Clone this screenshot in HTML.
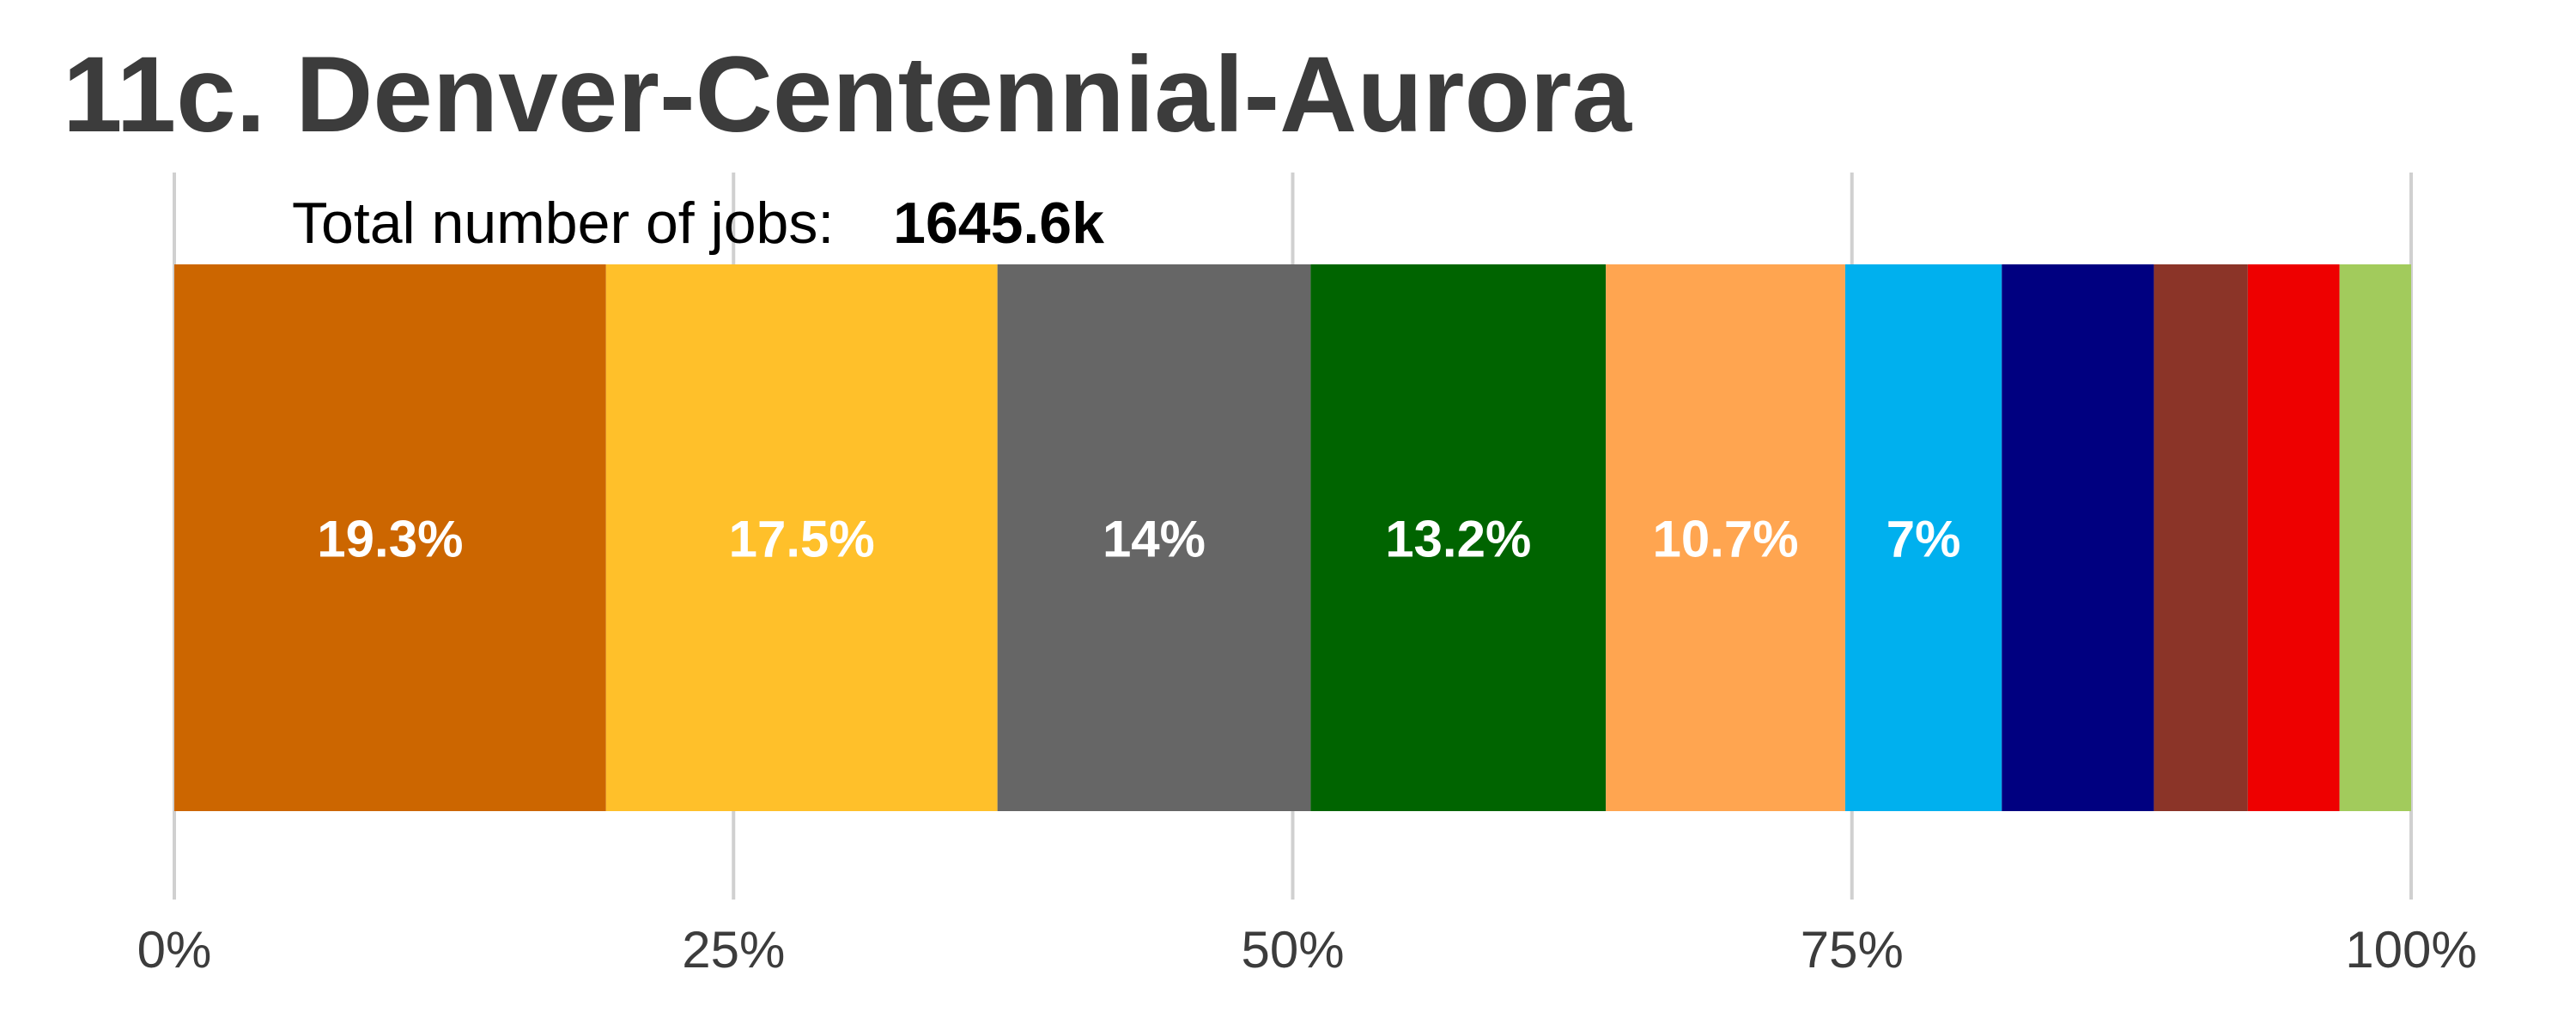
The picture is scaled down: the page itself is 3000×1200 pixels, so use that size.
<!DOCTYPE html>
<html><head><meta charset="utf-8"><style>
html,body{margin:0;padding:0;background:#fff;}
svg{display:block;font-family:"Liberation Sans",sans-serif;}
</style></head><body>
<svg id="chart" width="3000" height="1200" viewBox="0 0 3000 1200">
<text x="73" y="153" font-size="125" font-weight="bold" fill="#3c3c3c">11c. Denver-Centennial-Aurora</text>
<g id="grid"></g>
<g id="bars"></g>
<text x="340" y="283" font-size="68" fill="#000">Total number of jobs: <tspan font-weight="bold" dx="50">1645.6k</tspan></text>
<g id="ticks"></g>
</svg>
<script>
const categories=["s1","s2","s3","s4","s5","s6","s7","s8","s9","s10"];
const values=[19.3,17.5,14.0,13.2,10.7,7.0,6.8,4.2,4.1,3.2];
const colors=["#CC6600","#FFC02A","#666666","#006400","#FFA550","#00B0EE","#000080","#8B3428","#EE0000","#A2CB5C"];
const tickValues=[0,25,50,75,100];
const tickLabels=["0%","25%","50%","75%","100%"];
const NS="http://www.w3.org/2000/svg";
const x0=203,x1=2808,yTop=308,yBot=945;
const xs=v=>x0+(x1-x0)*v/100;
const grid=document.getElementById('grid'),bars=document.getElementById('bars'),ticks=document.getElementById('ticks');
tickValues.forEach((t,i)=>{
  const l=document.createElementNS(NS,'line');
  l.setAttribute('x1',xs(t));l.setAttribute('x2',xs(t));l.setAttribute('y1',201);l.setAttribute('y2',1048);
  l.setAttribute('stroke','#d0d0d0');l.setAttribute('stroke-width','4');
  
  
  grid.appendChild(l);
  const tx=document.createElementNS(NS,'text');
  tx.setAttribute('x',xs(t));tx.setAttribute('y',1127);tx.setAttribute('text-anchor','middle');
  tx.setAttribute('font-size','60');tx.setAttribute('fill','#3c3c3c');
  tx.textContent=tickLabels[i];
  
  
  ticks.appendChild(tx);
});
let cum=0;
values.forEach((v,i)=>{
  const r=document.createElementNS(NS,'rect');
  r.setAttribute('x',xs(cum));r.setAttribute('y',yTop);r.setAttribute('width',xs(cum+v)-xs(cum));r.setAttribute('height',yBot-yTop);
  r.setAttribute('fill',colors[i]);
  
  
  bars.appendChild(r);
  if(v>=7){
    const t=document.createElementNS(NS,'text');
    t.setAttribute('x',(xs(cum)+xs(cum+v))/2);t.setAttribute('y',(yTop+yBot)/2+22);
    t.setAttribute('text-anchor','middle');t.setAttribute('font-size','60');t.setAttribute('font-weight','bold');t.setAttribute('fill','#fff');
    t.textContent=(Math.round(v*10)/10)+'%';
    
    
    bars.appendChild(t);
  }
  cum+=v;
});
</script>
</body></html>
